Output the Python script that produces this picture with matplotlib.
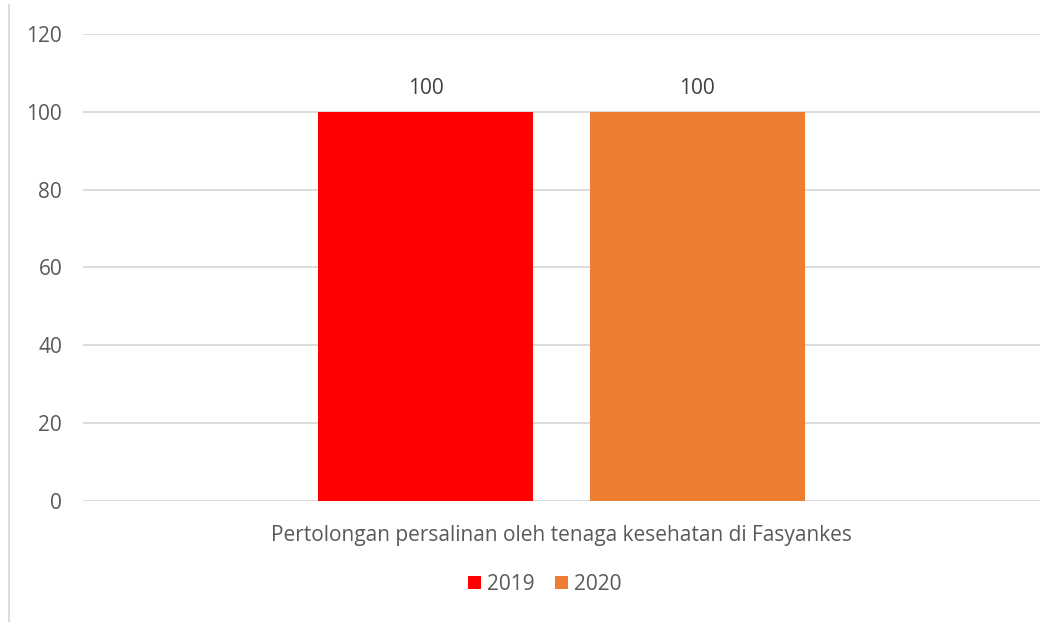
import matplotlib.pyplot as plt
from matplotlib.lines import Line2D

category = "Pertolongan persalinan oleh tenaga kesehatan di Fasyankes"
years = ["2019", "2020"]
values = [100, 100]
colors = ["#FF0000", "#ED7D31"]

plt.rcParams["font.family"] = ["Open Sans", "DejaVu Sans"]
text_color = "#595959"
fs = 15

fig = plt.figure(figsize=(10.6, 6.22), dpi=100)
ax = fig.add_axes([83 / 1060, 1 - 501 / 622, 957 / 1060, 467 / 622])

offsets = [-0.142, 0.142]
width = 0.2247
for off, val, col, yr in zip(offsets, values, colors, years):
    bars = ax.bar(off, val, width=width, color=col, label=yr, zorder=3)
    ax.bar_label(bars, labels=[f"{val:g}"], padding=9, fontsize=fs, color="#404040")

ax.set_xlim(-0.5, 0.5)
ax.set_ylim(0, 120)
ax.set_yticks(range(0, 121, 20))
ax.yaxis.grid(True, color="#D9D9D9", linewidth=1.3, zorder=0)
ax.set_xticks([0])
ax.set_xticklabels([category])
ax.tick_params(axis="x", length=0, pad=17, labelsize=fs, labelcolor=text_color)
ax.tick_params(axis="y", length=0, pad=15, labelsize=fs, labelcolor=text_color)
for s in ax.spines.values():
    s.set_visible(False)

# thin frame line on the left edge of the chart area
fig.add_artist(Line2D([8.5 / 1060, 8.5 / 1060], [0, 1 - 5 / 622], color="#D9D9D9", linewidth=1.3))

leg = fig.legend(loc="center", bbox_to_anchor=(545 / 1060, 1 - 584 / 622), ncol=2, frameon=False,
                 fontsize=fs, handlelength=0.6, handleheight=0.6, handletextpad=0.3, columnspacing=1.0)
for t in leg.get_texts():
    t.set_color(text_color)

fig.savefig("out.png", dpi=100)
